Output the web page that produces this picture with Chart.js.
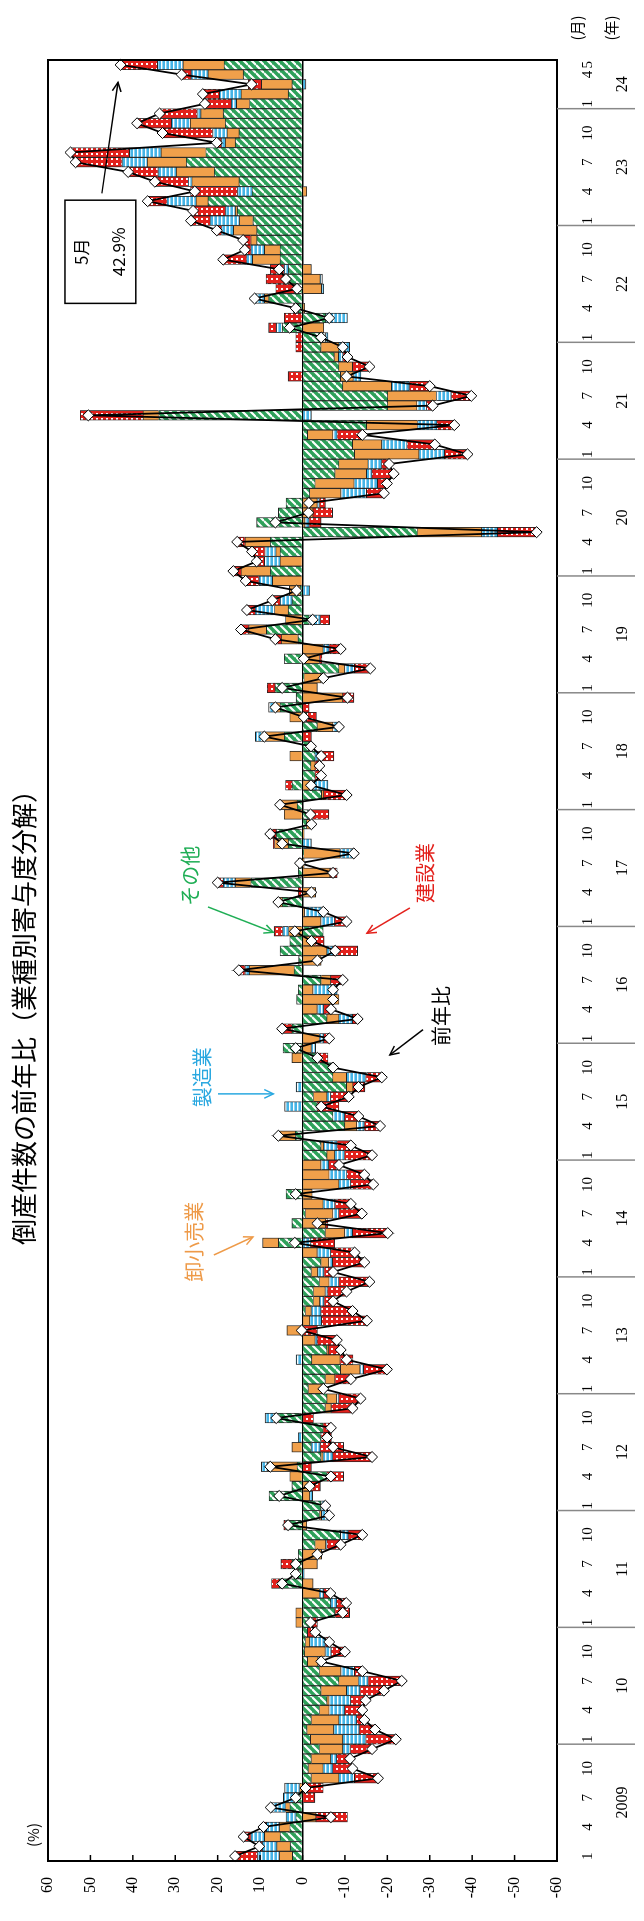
<!DOCTYPE html>
<html>
<head>
<meta charset="utf-8">
<script src="https://cdn.jsdelivr.net/npm/chart.js@4.4.1/dist/chart.umd.min.js"></script>
<style>
html, body { margin: 0; padding: 0; width: 644px; height: 1921px; overflow: hidden; background: #fff; }
#wrap { position: absolute; left: 0; top: 0; width: 1921px; height: 644px;
  transform-origin: 0 0; transform: translate(0, 1921px) rotate(-90deg); }
</style>
</head>
<body>
<div id="wrap"><canvas id="chart" width="1921" height="644"></canvas></div>
<script>
// 倒産件数の前年比（業種別寄与度分解） 2009/1 - 2024/5
const years = [2009, 2010, 2011, 2012, 2013, 2014, 2015, 2016, 2017, 2018, 2019, 2020, 2021, 2022, 2023, 2024]
const lastMonth = 5
const monthTicks = [1, 4, 7, 10]
const yearLabels = ['2009', '10', '11', '12', '13', '14', '15', '16', '17', '18', '19', '20', '21', '22', '23', '24']

// その他
const other = [
  2.4, 2.9, 5.3, 3.0, 1.6, 3.0, 1.5, 0, -2.1, -1.4, -2.1, -4.0,
  -1.9, -1.1, -2.1, -4.0, -5.8, -4.4, -8.6, -4.0, -1.2, -0.5, -0.7, -1.2,
  -2.0, -7.7, -6.7, 0, 5.5, 1.0, 2.5, 1.0, -3.0, -9.0, 4.0, -4.0,
  -4.4, 7.9, 2.5, -5.8, 1.3, -4.4, -2.1, -4.4, -4.9, 6.0, -5.4, -5.8,
  -1.4, -5.4, -9.0, -2.2, -5.8, 0, 0, 0, -0.7, -2.6, -2.6, -4.0,
  -2.1, -4.4, 0, 5.7, -5.4, 2.5, -0.7, 0, 3.9, 0, 0, 0,
  -5.8, -4.4, 1.7, -10.0, -7.2, -3.5, -2.6, -10.4, -7.2, -6.7, -4.0, 4.6,
  0, 2.5, -5.8, 0, 1.4, 1.0, -4.4, 2.0, 0.9, 5.3, 3.0, -4.9,
  0, 0, 4.8, 0, 12.2, 1.0, 1.0, -0.3, 3.4, 6.2, -1.0, -1.4,
  1.3, -4.5, 2.5, -3.0, -2.0, -3.0, -1.5, 4.3, -3.5, -1.0, 5.3, 1.5,
  6.5, -0.4, -8.6, 4.3, 0, 1.1, 8.5, -1.6, 3.4, 2.5, 0.6, 0,
  7.6, 0, 5.3, 7.6, -27.1, 10.8, 5.7, 3.9, -1.7, -3.0, -7.7, -8.6,
  -12.3, -11.8, -1.2, -15.1, 33.9, -20.1, -20.1, -9.5, -9.0, -8.6, -7.5, -4.4,
  -5.5, 4.8, -5.5, 1.0, 8.0, 2.0, 3.5, 3.4, 5.3, 5.3, 10.8, 10.8,
  11.7, 15.4, 22.3, 11.9, 15.0, 20.8, 27.4, 22.8, 15.9, 15.0, 18.2, 18.7,
  12.5, 3.4, 2.5, 14.0, 18.5
]

// 卸小売業
const retail = [
  3.1, 3.2, 3.7, 2.5, -3.2, 1.0, 0, 0.7, -6.5, -3.5, -4.6, -5.5,
  -7.6, -6.3, -6.5, -2.3, -0.5, -6.0, -4.6, -5.1, -2.5, -4.9, -1.0, 0,
  1.6, 1.6, 0, -4.0, -2.5, 1.0, -3.5, -4.5, -2.5, 0, -1.0, -0.5,
  0, -1.7, -2.0, 3.0, 7.0, -0.5, 2.5, 0, 0, 0.5, -1.4, -2.3,
  -3.5, -2.3, -4.6, -6.7, -0.4, -3.0, 3.7, -1.7, -1.4, -1.5, -2.8, -2.3,
  -1.5, -1.8, -3.5, 3.7, -4.6, -5.5, -6.5, -4.9, -2.3, -8.6, -6.3, -4.4,
  -1.8, -0.6, 4.0, -2.8, 0, 0, -3.2, -1.5, -3.2, 0, 2.5, -2.1,
  -4.0, 0, -2.8, -3.5, -8.6, -2.5, -2.3, 10.6, -4.4, -5.8, -3.0, 3.3,
  -4.4, -0.5, 0.9, -3.1, 3.7, -6.5, -0.4, -8.6, 3.2, -0.4, -1.1, 4.3,
  4.0, -0.5, -2.5, 0, -1.0, 3.0, -0.5, 4.6, -3.7, 3.0, 1.3, -9.5,
  -3.5, -4.0, -1.4, -4.0, -4.9, 3.9, 4.2, 4.0, 3.2, 0, 2.5, 7.1,
  6.9, 5.3, 1.0, 6.0, -15.2, -0.6, -2.5, -3.5, -7.4, -9.2, -7.4, -6.9,
  -15.2, -6.9, -6.0, -12.0, 3.7, -6.9, -11.5, -11.5, -3.0, -3.2, -1.0, -4.2,
  0, -5.0, 0, -0.5, 1.0, -4.5, -4.2, -2.1, 6.5, 3.7, 1.4, 5.5,
  3.2, 0.5, 2.8, -1.0, 11.1, 9.0, 9.2, 10.6, 2.3, 2.8, 8.3, 5.3,
  3.1, 11.1, 7.2, 8.3, 9.7
]

// 製造業
const manuf = [
  5.2, 3.4, 3.2, 3.0, 2.3, 3.5, 3.0, 3.5, -3.7, -2.3, -1.4, -1.8,
  -5.5, -6.0, -4.2, -3.7, -5.1, -3.2, -2.3, -3.2, -0.7, -1.4, -3.7, 0,
  0, 0, -1.4, -1.0, 0, -0.4, 0, 0, -0.3, -1.8, 0, -1.8,
  -1.0, -0.7, 0, 0, 1.4, -2.3, -2.1, 1.0, 0, 2.3, 0, -0.5,
  0, 0, -0.8, 1.5, 0, -0.5, 0, -2.8, -2.3, -1.0, -0.5, -2.3,
  -1.5, -0.9, -3.2, -2.0, -1.8, 0, -1.4, -2.8, 0, -2.8, -4.2, -1.8,
  -2.3, -3.2, 0, -1.8, -2.8, 4.2, -0.9, 1.5, -4.6, 0, 0, -1.0,
  -1.0, 0, -3.2, -1.5, 0, -5.7, 0, 1.0, 0, -1.4, 0, 1.4,
  -3.2, -4.4, 0, 0, 2.8, 0, 0, -3.2, -2.1, 0, 0, -0.2,
  0, 0, -3.5, 0, 0, -0.7, 0, 2.2, -1.4, 0, 1.4, 0,
  0, -0.5, -2.3, 0, -1.4, 0, 0, -2.6, 4.6, 2.8, -1.7, 3.2,
  0, 3.7, 2.6, 0, -3.7, -1.0, 0, -0.5, -6.0, -5.5, -1.3, -3.2,
  -6.0, -6.0, -1.0, -4.6, -2.1, -2.3, -3.5, -4.2, -1.8, 0, -1.1, -2.5,
  -0.5, 1.4, -5.1, 0.3, 2.3, -0.5, -0.5, 1.0, 1.4, 3.2, 0, 2.8,
  6.9, 2.3, 6.9, 3.5, 0.9, 4.3, 6.0, 7.4, 1.0, 3.4, 4.4, 0.9,
  1.2, 5.1, -0.8, 4.0, 6.0
]

// 建設業
const constr = [
  5.2, 0.7, 1.7, 0.7, -7.4, 0, -2.9, -4.9, -5.5, -4.6, -3.1, -5.1,
  -7.0, -3.7, -1.8, -4.2, -3.5, -5.5, -7.9, -1.8, 0, -3.2, -0.9, -1.8,
  -1.5, -3.4, -2.2, -1.6, 1.8, 0, 2.6, 0, -3.2, -3.3, 0.4, 0,
  0, 0, -2.2, -3.9, -2.1, -9.2, -5.5, -2.4, -1.8, -2.6, -5.1, -5.1,
  0, -3.7, -5.5, -3.0, -2.8, -4.6, -3.5, -10.6, -7.4, -2.1, -4.5, -7.2,
  -2.1, -7.5, -5.6, -5.6, -8.3, -0.5, -5.4, -3.7, 0, -5.3, -4.1, -2.4,
  -6.5, -3.2, 0, -3.7, -3.2, -5.1, -4.2, -2.8, -3.7, -0.5, -2.0, 0,
  -1.3, 2.3, -1.2, -1.7, 0, 0, -2.8, 1.4, 0, -5.8, -2.1, 2.0,
  -2.8, 0, 0, 1.0, 1.3, -1.7, 0, 0, 0.3, 1.8, 0, -4.6,
  0, -5.4, 1.5, -1.4, -1.0, -3.7, 0, -2.1, 0, -2.3, -1.6, -2.6,
  1.8, 0, -3.7, -0.6, -2.7, 1.4, 1.8, -2.2, 1.9, 1.8, 0, 2.8,
  1.8, 1.8, 3.0, 1.8, -9.2, -2.8, -4.6, -1.4, -4.2, -2.2, -5.1, -1.7,
  -5.4, -6.5, -5.9, -4.2, 14.8, -1.4, -4.6, -4.8, 3.4, -4.0, -1.0, 1.6,
  1.6, 1.8, 4.3, 0.8, 0, 4.3, 5.1, 3.2, 5.5, 1.4, 1.8, 1.1,
  4.5, 7.6, 4.5, 11.0, 7.8, 7.0, 10.8, 13.9, 1.0, 11.8, 8.1, 8.8,
  6.2, 3.9, 3.1, 2.2, 8.7
]

// 前年比
const total = [
  15.9, 10.2, 13.9, 9.2, -6.7, 7.5, 1.6, -0.7, -17.8, -11.8, -11.2, -16.4,
  -22.0, -17.1, -14.6, -14.1, -14.9, -19.2, -23.4, -14.1, -4.4, -10.0, -6.3, -3.0,
  -1.9, -9.5, -10.3, -6.6, 4.8, 1.6, 1.6, -3.5, -9.0, -14.1, 3.4, -6.3,
  -5.4, 5.5, -1.7, -6.7, 7.6, -16.4, -7.2, -5.8, -6.7, 6.2, -11.8, -13.7,
  -4.9, -11.4, -19.9, -10.4, -9.0, -8.1, 0.2, -15.2, -11.8, -7.2, -10.4, -15.8,
  -7.2, -14.6, -12.3, 1.8, -20.1, -3.5, -14.0, -11.4, 1.6, -16.7, -14.6, -8.6,
  -16.4, -11.4, 5.7, -18.3, -13.2, -4.4, -10.9, -13.2, -18.7, -7.2, -3.5, 1.6,
  -6.3, 4.8, -13.0, -6.7, -7.2, -7.2, -9.5, 15.0, -3.5, -7.7, -2.1, 1.8,
  -10.4, -4.9, 5.7, -2.1, 20.0, -7.2, 0.6, -12.1, 4.8, 7.6, -2.1, -1.9,
  5.3, -10.4, -2.0, -4.4, -4.0, -4.4, -2.0, 9.0, -8.6, -0.3, 6.4, -10.6,
  4.8, -4.9, -16.0, -0.3, -9.0, 6.4, 14.5, -2.4, 13.1, 7.1, 1.4, 13.4,
  16.3, 10.8, 11.9, 15.4, -55.2, 6.4, -1.4, -1.5, -19.2, -19.9, -21.5, -20.4,
  -38.9, -31.2, -14.1, -35.8, 50.5, -30.7, -39.8, -30.0, -10.4, -15.8, -10.6, -9.5,
  -4.4, 3.0, -6.3, 1.6, 11.3, 1.3, 3.9, 5.5, 18.7, 13.6, 14.0, 20.2,
  26.3, 25.8, 36.5, 25.4, 34.8, 41.1, 53.5, 54.7, 20.2, 33.0, 39.0, 33.7,
  23.0, 23.5, 12.0, 28.5, 42.9
]

const labels = []
years.forEach(y => {
  for (let m = 1; m <= 12; m++) {
    if (y === years[years.length - 1] && m > lastMonth) break
    labels.push(y + '/' + m)
  }
})

const canvas = document.getElementById('chart')
const ctx = canvas.getContext('2d')

function pattern(bg, draw, size) {
  const c = document.createElement('canvas')
  c.width = size
  c.height = size
  const g = c.getContext('2d')
  g.fillStyle = bg
  g.fillRect(0, 0, size, size)
  g.fillStyle = '#fff'
  g.strokeStyle = '#fff'
  draw(g)
  return ctx.createPattern(c, 'repeat')
}

const greenFill = pattern('#2ea15a', g => {
  g.lineWidth = 2.2
  g.beginPath()
  for (let k = -8; k <= 8; k += 8) { g.moveTo(k, 8); g.lineTo(k + 8, 0) }
  g.stroke()
}, 8)
const blueFill = pattern('#45b4e6', g => { g.fillRect(0, 1, 4, 1.4) }, 4)
const redFill = pattern('#e3211c', g => { g.fillRect(1, 1, 2, 2) }, 5)
const orangeFill = '#f0a04b'

const notes = [
  { text: '卸小売業', color: '#ee9a48', at: [63.1, 25.5], from: [61.75, 20.9], to: [63.6, 11.7] },
  { text: '製造業', color: '#2aa8e0', at: [80.0, 23.7], from: [78.3, 19.9], to: [78.3, 6.9] },
  { text: 'その他', color: '#1fae55', at: [100.7, 26.5], from: [97.5, 22.3], to: [94.9, 6.9] },
  { text: '建設業', color: '#e3211c', at: [101.0, -28.9], from: [97.4, -25.3], to: [94.8, -15.2] },
  { text: '前年比', color: '#000', at: [86.3, -32.7], from: [84.9, -28.4], to: [82.3, -20.6] }
]
const box = { lines: ['5月', '42.9%'], x0: 159.5, x1: 170.1, y0: 56.0, y1: 39.3, from: [170.8, 47.3], to: [182.2, 43.5] }

function arrow(c, x1, y1, x2, y2, color) {
  c.strokeStyle = color
  c.lineWidth = 1.5
  c.beginPath(); c.moveTo(x1, y1); c.lineTo(x2, y2); c.stroke()
  const a = Math.atan2(y2 - y1, x2 - x1), L = 10
  c.beginPath()
  c.moveTo(x2 - L * Math.cos(a - 0.45), y2 - L * Math.sin(a - 0.45))
  c.lineTo(x2, y2)
  c.lineTo(x2 - L * Math.cos(a + 0.45), y2 - L * Math.sin(a + 0.45))
  c.stroke()
}

const jp = '"Noto Sans CJK JP", sans-serif'
const serif = '"Liberation Serif", "DejaVu Serif", serif'

const deco = {
  id: 'deco',
  afterDraw(chart) {
    const c = chart.ctx
    const a = chart.chartArea
    const x = chart.scales.x, y = chart.scales.y
    const px = t => x.getPixelForValue(t)
    const py = v => y.getPixelForValue(v)
    c.save()

    // frame and inner ticks
    c.strokeStyle = '#000'
    c.lineWidth = 2
    c.strokeRect(a.left, a.top, a.right - a.left, a.bottom - a.top)
    c.lineWidth = 1.5
    y.ticks.forEach(t => {
      const yy = py(t.value)
      c.beginPath(); c.moveTo(a.left, yy); c.lineTo(a.left + 6, yy); c.stroke()
    })

    // year separators and year labels
    c.fillStyle = '#000'
    c.font = '16px ' + serif
    c.textAlign = 'center'
    c.textBaseline = 'middle'
    years.forEach((yr, k) => {
      const first = k * 12
      const last = Math.min(first + 11, labels.length - 1)
      const x0 = px(first - 0.5), x1 = px(last + 0.5)
      if (k > 0) {
        c.strokeStyle = '#888'
        c.lineWidth = 1.5
        c.beginPath(); c.moveTo(x0, a.bottom); c.lineTo(x0, a.bottom + 78); c.stroke()
      }
      c.fillText(yearLabels[k], (x0 + x1) / 2, 623)
    })

    c.font = '15px ' + jp
    c.fillText('(月)', a.right + 32, 577)
    c.fillText('(年)', a.right + 32, 611)
    c.fillText('(%)', 86, 33)

    c.font = '26px ' + jp
    c.fillText('倒産件数の前年比（業種別寄与度分解）', 910, 24)

    // annotations
    c.font = '20px ' + jp
    notes.forEach(n => {
      c.fillStyle = n.color
      c.fillText(n.text, px(n.at[0]), py(n.at[1]))
      arrow(c, px(n.from[0]), py(n.from[1]), px(n.to[0]), py(n.to[1]), n.color)
    })

    const bx = px(box.x0), by = py(box.y0), bw = px(box.x1) - bx, bh = py(box.y1) - by
    c.fillStyle = '#fff'
    c.fillRect(bx, by, bw, bh)
    c.strokeStyle = '#000'
    c.lineWidth = 1.5
    c.strokeRect(bx, by, bw, bh)
    c.fillStyle = '#000'
    c.font = '17px ' + jp
    c.fillText(box.lines[0], bx + bw / 2, by + bh * 0.23)
    c.fillText(box.lines[1], bx + bw / 2, by + bh * 0.75)
    arrow(c, px(box.from[0]), py(box.from[1]), px(box.to[0]), py(box.to[1]), '#000')

    c.restore()
  }
}

const bar = (label, data, fill) => ({
  type: 'bar', label, data, backgroundColor: fill,
  borderColor: '#222', borderWidth: 0.9, stack: 's', order: 2
})

new Chart(ctx, {
  data: {
    labels,
    datasets: [
      bar('その他', other, greenFill),
      bar('卸小売業', retail, orangeFill),
      bar('製造業', manuf, blueFill),
      bar('建設業', constr, redFill),
      {
        type: 'line', label: '前年比', data: total, stack: 'line', order: 1,
        borderColor: '#000', borderWidth: 1.8, tension: 0,
        pointStyle: 'rectRot', pointRadius: 5.5, pointBackgroundColor: '#fff',
        pointBorderColor: '#000', pointBorderWidth: 1
      }
    ]
  },
  options: {
    responsive: false,
    devicePixelRatio: 1,
    animation: false,
    layout: { padding: { top: 48, right: 60, left: 0, bottom: 0 } },
    plugins: { legend: { display: false }, tooltip: { enabled: false } },
    datasets: { bar: { barPercentage: 1, categoryPercentage: 1 } },
    scales: {
      x: {
        stacked: true,
        grid: { display: false },
        border: { display: false },
        afterFit: s => { s.height = 87 },
        ticks: {
          autoSkip: false, maxRotation: 0, padding: 14, color: '#000',
          font: { family: serif, size: 15 },
          callback: (v, i) => {
            const m = i % 12 + 1
            return (monthTicks.includes(m) || i === labels.length - 1) ? String(m) : ''
          }
        }
      },
      y: {
        stacked: true,
        min: -60, max: 60,
        border: { display: false },
        afterFit: s => { s.width = 60 },
        grid: {
          drawTicks: false,
          color: c => c.tick.value === 0 ? '#000' : 'rgba(0,0,0,0)',
          lineWidth: 1.5
        },
        ticks: { stepSize: 10, padding: 16, color: '#000', font: { family: serif, size: 16 } }
      }
    }
  },
  plugins: [deco]
})
</script>
</body>
</html>
